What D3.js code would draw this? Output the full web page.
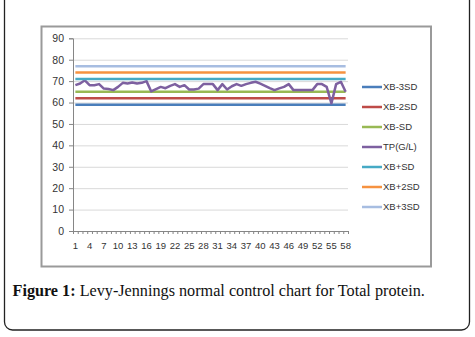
<!DOCTYPE html>
<html>
<head>
<meta charset="utf-8">
<script src="https://cdn.jsdelivr.net/npm/d3@7"></script>
<style>
  body { margin: 0; background: #fff; }
  svg { display: block; }
</style>
</head>
<body>
<svg id="chart" width="475" height="337"></svg>
<script>
// categories (run number) and the measured total protein values
const runs = d3.range(1, 59);
const tpValues = [
  68.1, 68.9, 70.4, 68.1, 68.1, 68.6, 66.5, 66.3, 65.8, 67.3,
  69.2, 68.9, 69.4, 68.9, 69.2, 70.0, 65.2, 66.3, 67.3, 66.7,
  67.8, 68.6, 67.3, 68.1, 66.1, 66.1, 66.5, 68.6, 68.6, 68.6,
  65.8, 68.6, 66.1, 67.6, 68.6, 67.8, 68.6, 69.2, 69.7, 68.8,
  67.8, 66.7, 65.8, 66.6, 67.3, 68.6, 65.8, 65.8, 65.8, 65.8,
  65.8, 68.6, 68.6, 67.3, 59.6, 68.6, 69.7, 65.0
];
// control limits
const limitNames = ["XB-3SD", "XB-2SD", "XB-SD", "XB+SD", "XB+2SD", "XB+3SD"];
const limitValues = [59, 62, 65, 71, 74, 77];
const yTicks = [0, 10, 20, 30, 40, 50, 60, 70, 80, 90];
const legendNames = ["XB-3SD", "XB-2SD", "XB-SD", "TP(G/L)", "XB+SD", "XB+2SD", "XB+3SD"];
const colors = {
  "XB-3SD": "#4a7ebb",
  "XB-2SD": "#be4b48",
  "XB-SD": "#98b954",
  "TP(G/L)": "#7d60a0",
  "XB+SD": "#46aac5",
  "XB+2SD": "#f69240",
  "XB+3SD": "#a7bde1"
};

const svg = d3.select("#chart");
const plot = { left: 73, right: 348, top: 38.3, bottom: 231 };

// outer figure box
svg.append("rect")
  .attr("x", 4.5).attr("y", -10)
  .attr("width", 465).attr("height", 340)
  .attr("rx", 8)
  .attr("fill", "none")
  .attr("stroke", "#222")
  .attr("stroke-width", 1.3);

// chart frame
svg.append("rect")
  .attr("x", 41.5).attr("y", 26.5)
  .attr("width", 389.5).attr("height", 240)
  .attr("fill", "#fff")
  .attr("stroke", "#9a9a9a")
  .attr("stroke-width", 2);

const x = d3.scaleBand().domain(runs).range([plot.left, plot.right]).padding(0);
const xEdge = d3.scaleLinear().domain([0, runs.length]).range([plot.left, plot.right]);
const y = d3.scaleLinear().domain([0, 90]).range([plot.bottom, plot.top]);
const cx = d => x(d) + x.bandwidth() / 2;

// gridlines
svg.append("g")
  .attr("transform", "translate(" + plot.left + ",0)")
  .call(d3.axisLeft(y).tickValues(yTicks.slice(1)).tickSize(-(plot.right - plot.left)).tickFormat(""))
  .call(g => g.select(".domain").remove())
  .call(g => g.selectAll("line").attr("stroke", "#d9d9d9").attr("stroke-width", 1));

// y axis
svg.append("g")
  .attr("transform", "translate(" + plot.left + ",0)")
  .call(d3.axisLeft(y).tickValues(yTicks).tickSize(4).tickPadding(5))
  .call(g => g.select(".domain").attr("stroke", "#868686"))
  .call(g => g.selectAll("line").attr("stroke", "#868686"))
  .call(g => g.selectAll("text").attr("fill", "#333").attr("font-size", "10.5px")
    .attr("font-family", "Liberation Sans, Arial, sans-serif"));

// x axis: minor ticks at every category boundary
svg.append("g")
  .attr("transform", "translate(0," + plot.bottom + ")")
  .call(d3.axisBottom(xEdge).tickValues(d3.range(0, runs.length + 1)).tickSize(3).tickFormat(""))
  .call(g => g.select(".domain").attr("stroke", "#868686"))
  .call(g => g.selectAll("line").attr("stroke", "#868686"));

// x labels every third run
svg.append("g")
  .attr("transform", "translate(0," + plot.bottom + ")")
  .call(d3.axisBottom(x).tickValues(runs.filter(d => d % 3 === 1)).tickSize(0).tickPadding(11))
  .call(g => g.select(".domain").remove())
  .call(g => g.selectAll("text").attr("fill", "#333").attr("font-size", "9.5px")
    .attr("font-family", "Liberation Sans, Arial, sans-serif"));

const line = d3.line().x(d => cx(d.run)).y(d => y(d.v));

// series in drawing order
const series = [];
limitNames.slice(0, 3).forEach((n, i) => series.push({ name: n, pts: runs.map(r => ({ run: r, v: limitValues[i] })) }));
series.push({ name: "TP(G/L)", pts: runs.map((r, i) => ({ run: r, v: tpValues[i] })) });
limitNames.slice(3).forEach((n, i) => series.push({ name: n, pts: runs.map(r => ({ run: r, v: limitValues[i + 3] })) }));

svg.append("g").selectAll("path")
  .data(series)
  .join("path")
  .attr("d", d => line(d.pts))
  .attr("fill", "none")
  .attr("stroke", d => colors[d.name])
  .attr("stroke-width", 2.5)
  .attr("stroke-linejoin", "round");

// legend
const legend = svg.append("g").selectAll("g")
  .data(legendNames)
  .join("g")
  .attr("transform", (d, i) => "translate(362," + (87 + i * 20) + ")");
legend.append("line")
  .attr("x1", 0).attr("x2", 20)
  .attr("stroke", d => colors[d])
  .attr("stroke-width", 2.5);
legend.append("text")
  .attr("x", 21).attr("dy", "0.35em")
  .attr("font-size", "9.5px")
  .attr("font-family", "Liberation Sans, Arial, sans-serif")
  .attr("fill", "#333")
  .text(d => d);

// caption
const cap = svg.append("text")
  .attr("x", 12.5).attr("y", 296)
  .attr("font-family", "Liberation Serif, Times New Roman, serif")
  .attr("font-size", "16.2px")
  .attr("fill", "#111");
cap.append("tspan").attr("font-weight", "bold").text("Figure 1:");
cap.append("tspan").text(" Levy-Jennings normal control chart for Total protein.");
</script>
</body>
</html>
